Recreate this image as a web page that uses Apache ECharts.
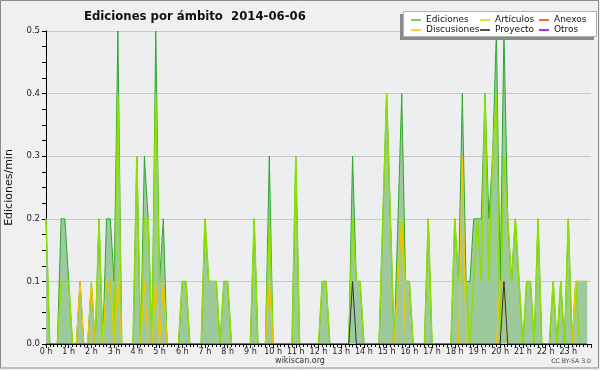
<!DOCTYPE html>
<html><head><meta charset="utf-8">
<script src="https://cdn.jsdelivr.net/npm/echarts@6/dist/echarts.min.js"></script>
<style>html,body{margin:0;padding:0;background:#f0f0f0}#c{width:600px;height:370px}</style>
</head><body><div id="c"></div>
<script>
const titleText = 'Ediciones por ámbito  2014-06-06';
const yAxisName = 'Ediciones/min';
const hourLabels = ['0 h','1 h','2 h','3 h','4 h','5 h','6 h','7 h','8 h','9 h','10 h','11 h',
  '12 h','13 h','14 h','15 h','16 h','17 h','18 h','19 h','20 h','21 h','22 h','23 h'];
// values per 10-minute slot (6 per hour), in edits/min
const ediciones = [
  0.2,0,0,0,0.2,0.2,   0.1,0,0,0.1,0,0,     0.1,0,0.2,0,0.2,0.2,   0.1,0.5,0,0,0,0,
  0.3,0,0.3,0.2,0,0.5, 0.1,0.2,0,0,0,0,     0.1,0.1,0,0,0,0,       0.2,0.1,0.1,0.1,0,0.1,
  0.1,0,0,0,0,0,       0,0.2,0,0,0,0.3,     0,0,0,0,0,0,           0.3,0,0,0,0,0,
  0,0.1,0.1,0,0,0,     0,0,0,0.3,0.1,0.1,   0,0,0,0,0,0.2,         0.4,0.2,0,0.2,0.4,0.1,
  0.1,0,0,0,0,0.2,     0,0,0,0,0,0,         0.2,0.1,0.4,0.1,0.1,0.2, 0.2,0.2,0.4,0.2,0.3,0.5,
  0.1,0.5,0.2,0.1,0.2,0.1, 0,0.1,0.1,0,0.2,0, 0,0,0.1,0,0.1,0,       0.2,0,0.1,0.1,0.1,0.1
];
const articulos = [
  0.2,0,0,0,0.1,0.1,   0.1,0,0,0,0,0,       0,0,0.2,0,0.1,0.1,     0,0.4,0,0,0,0,
  0.3,0,0.2,0.2,0,0.4, 0.1,0.1,0,0,0,0,     0.1,0.1,0,0,0,0,       0.2,0.1,0.1,0.1,0,0.1,
  0.1,0,0,0,0,0,       0,0.2,0,0,0,0.2,     0,0,0,0,0,0,           0.3,0,0,0,0,0,
  0,0.1,0.1,0,0,0,     0,0,0,0.2,0.1,0.1,   0,0,0,0,0,0.2,         0.4,0.2,0,0.1,0.2,0.1,
  0.1,0,0,0,0,0.2,     0,0,0,0,0,0,         0.2,0.1,0.1,0.1,0,0.1, 0.2,0.1,0.4,0.1,0.3,0.4,
  0,0.3,0.2,0.1,0.2,0.1, 0,0.1,0.1,0,0.2,0, 0,0,0.1,0,0.1,0,       0.2,0,0.1,0,0,0
];
const discusiones = [
  0,0,0,0,0,0,         0,0,0,0.1,0,0,       0.1,0,0,0,0.1,0.1,     0,0.1,0,0,0,0,
  0,0,0.1,0,0,0.1,     0,0.1,0,0,0,0,       0,0,0,0,0,0,           0,0,0,0,0,0,
  0,0,0,0,0,0,         0,0,0,0,0,0.1,       0,0,0,0,0,0,           0,0,0,0,0,0,
  0,0,0,0,0,0,         0,0,0,0,0,0,         0,0,0,0,0,0,           0,0,0,0.1,0.2,0,
  0,0,0,0,0,0,         0,0,0,0,0,0,         0,0,0.3,0,0,0,         0,0,0,0,0,0,
  0.1,0.1,0,0,0,0,     0,0,0,0,0,0,         0,0,0,0,0,0,           0,0,0.1,0.1,0.1,0.1
];
const proyecto = [
  0,0,0,0,0,0, 0,0,0,0,0,0, 0,0,0,0,0,0, 0,0,0,0,0,0,
  0,0,0,0,0,0, 0,0,0,0,0,0, 0,0,0,0,0,0, 0,0,0,0,0,0,
  0,0,0,0,0,0, 0,0,0,0,0,0, 0,0,0,0,0,0, 0,0,0,0,0,0,
  0,0,0,0,0,0, 0,0,0,0.1,0,0, 0,0,0,0,0,0, 0,0,0,0,0,0,
  0,0,0,0,0,0, 0,0,0,0,0,0, 0,0,0,0,0,0, 0,0,0,0,0,0,
  0,0.1,0,0,0,0, 0,0,0,0,0,0, 0,0,0,0,0,0, 0,0,0,0,0,0
];
const anexos = [];
const otros = [];

const F = 'DejaVu Sans';
const toPts = arr => arr.map((v, i) => [i, v]);
const chart = echarts.init(document.getElementById('c'), null, {renderer: 'canvas'});
const legendText = {fontFamily: F, fontSize: 9, color: '#111', lineHeight: 10};
const mkLegend = (items, left) => ({
  data: items, left: left, top: 15, orient: 'vertical', itemGap: 0, itemWidth: 10, itemHeight: 2,
  icon: 'rect', itemTextGap: 4, padding: 0, z: 12, textStyle: legendText, selectedMode: false
});
chart.setOption({
  backgroundColor: '#f0f0f0',
  animation: false,
  title: {text: titleText, left: 84, top: 11, padding: 0,
    textStyle: {fontFamily: F, fontWeight: 'bold', fontSize: 11.7, color: '#111'}},
  grid: {left: 46, right: 9, top: 31, bottom: 26, show: true, backgroundColor: '#edeef0', borderWidth: 0,
    containLabel: false, outerBoundsMode: 'none'},
  xAxis: {type: 'value', min: 0, max: 144, interval: 6, z: 5,
    axisLine: {lineStyle: {color: '#000', width: 1}},
    axisTick: {show: true, length: 4, lineStyle: {color: '#000'}},
    minorTick: {show: true, splitNumber: 6, length: 3, lineStyle: {color: '#000'}},
    axisLabel: {formatter: v => hourLabels[v / 6] || '', showMaxLabel: false, fontFamily: F, fontSize: 8, color: '#222', margin: 4},
    splitLine: {show: false}, minorSplitLine: {show: false}},
  yAxis: {type: 'value', min: 0, max: 0.5, interval: 0.1,
    name: yAxisName, nameLocation: 'middle', nameGap: 31, nameRotate: 90,
    nameTextStyle: {fontFamily: F, fontSize: 11, color: '#111'},
    axisLine: {show: true, lineStyle: {color: '#000'}},
    axisTick: {show: true, length: 4, lineStyle: {color: '#000'}},
    minorTick: {show: true, splitNumber: 4, length: 4, lineStyle: {color: '#000'}},
    axisLabel: {formatter: v => v.toFixed(1), fontFamily: F, fontSize: 8.5, color: '#222', margin: 6},
    splitLine: {show: true, lineStyle: {color: '#c8c8c8'}}},
  legend: [
    mkLegend([{name: 'Ediciones', itemStyle: {color: '#77cc77'}}, {name: 'Discusiones', itemStyle: {color: '#ffcc33'}}], 411),
    mkLegend([{name: 'Artículos', itemStyle: {color: '#ccee44'}}, {name: 'Proyecto', itemStyle: {color: '#555555'}}], 480),
    mkLegend([{name: 'Anexos', itemStyle: {color: '#ff6633'}}, {name: 'Otros', itemStyle: {color: '#9933ff'}}], 539)
  ],
  graphic: [
    {type: 'rect', z: 10, shape: {x: 400, y: 14, width: 194, height: 26}, style: {fill: '#8a8a8a'}},
    {type: 'rect', z: 11, shape: {x: 403.5, y: 11.5, width: 193, height: 25}, style: {fill: '#ffffff', stroke: '#b0b0b0', lineWidth: 1}},
    {type: 'text', z: 11, style: {text: 'wikiscan.org', x: 300, y: 361, align: 'center', verticalAlign: 'middle', textAlign: 'center', textVerticalAlign: 'middle', font: '8px "DejaVu Sans"', fill: '#333'}},
    {type: 'text', z: 11, style: {text: 'CC BY-SA 3.0', x: 591, y: 361, align: 'right', verticalAlign: 'middle', textAlign: 'right', textVerticalAlign: 'middle', font: '6.2px "DejaVu Sans"', fill: '#444'}},
    {type: 'rect', z: 11, shape: {x: 0.5, y: 0.5, width: 598, height: 367.5}, style: {fill: 'none', stroke: '#8c8c8c', lineWidth: 1}}
  ],
  series: [
    {name: 'Ediciones', type: 'line', data: toPts(ediciones), symbol: 'none', z: 2,
      lineStyle: {color: '#2ea82e', width: 1}, itemStyle: {color: '#2ea82e'},
      areaStyle: {color: '#9ec99c', opacity: 1}},
    {name: 'Artículos', type: 'line', data: toPts(articulos), symbol: 'none', z: 3,
      lineStyle: {color: '#8ee000', width: 1.5}, itemStyle: {color: '#8ee000'}},
    {name: 'Anexos', type: 'line', data: anexos, symbol: 'none', z: 3,
      lineStyle: {color: '#ff6633', width: 1}, itemStyle: {color: '#ff6633'}},
    {name: 'Discusiones', type: 'line', data: toPts(discusiones), symbol: 'none', z: 4,
      lineStyle: {color: '#f5c400', width: 1.2}, itemStyle: {color: '#f5c400'}},
    {name: 'Proyecto', type: 'line', data: toPts(proyecto), symbol: 'none', z: 5,
      lineStyle: {color: '#333333', width: 1}, itemStyle: {color: '#333333'}},
    {name: 'Otros', type: 'line', data: otros, symbol: 'none', z: 5,
      lineStyle: {color: '#9933ff', width: 1}, itemStyle: {color: '#9933ff'}}
  ]
});
</script></body></html>
